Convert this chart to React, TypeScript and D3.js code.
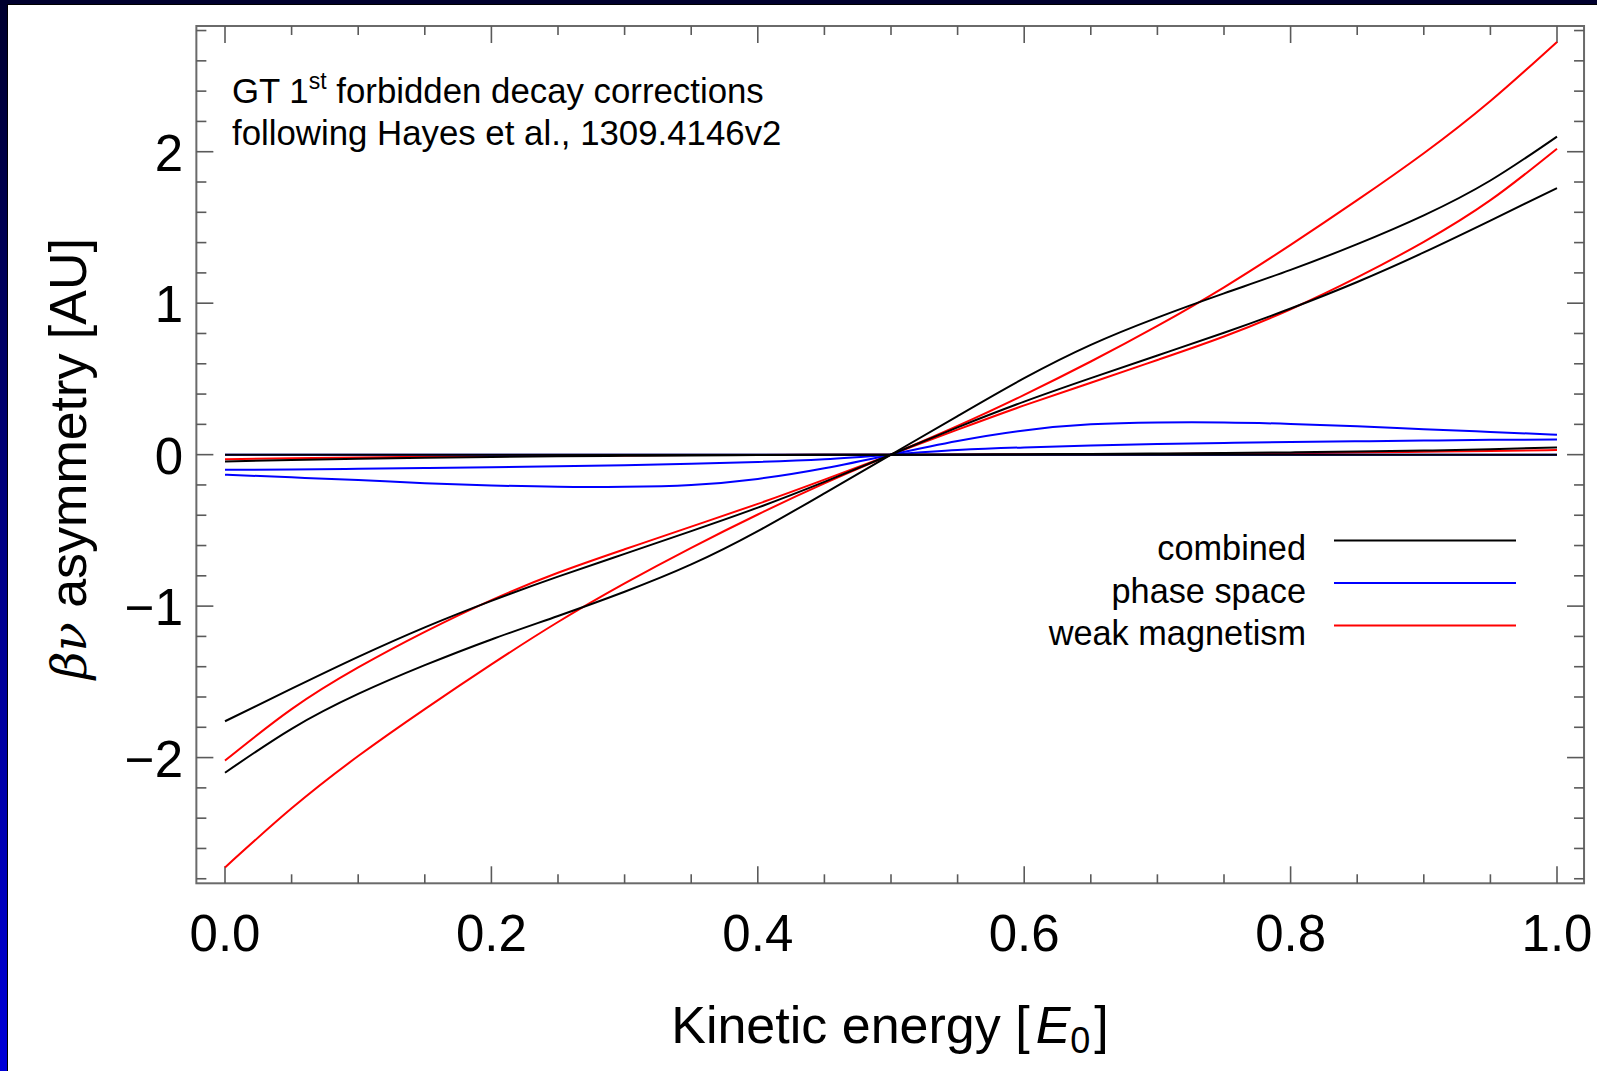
import React from "react";
import * as d3 from "d3";

// ---- data ----
const energy = [0, 0.05, 0.1, 0.15, 0.2, 0.25, 0.3, 0.35, 0.4, 0.45, 0.5, 0.55, 0.6, 0.65, 0.7, 0.75, 0.8, 0.85, 0.9, 0.95, 1];

// weak magnetism (red)
const weakA = [-2.725, -2.335, -1.99, -1.68, -1.385, -1.105, -0.85, -0.615, -0.395, -0.19, 0, 0.19, 0.395, 0.615, 0.85, 1.105, 1.385, 1.68, 1.99, 2.335, 2.725];
const weakB = [-2.02, -1.68, -1.405, -1.17, -0.96, -0.78, -0.625, -0.475, -0.325, -0.165, 0, 0.165, 0.325, 0.475, 0.625, 0.78, 0.96, 1.17, 1.405, 1.68, 2.02];
const weakC = [-0.03, -0.024, -0.019, -0.014, -0.01, -0.007, -0.005, -0.003, -0.002, -0.001, 0, 0.001, 0.002, 0.003, 0.005, 0.007, 0.01, 0.014, 0.019, 0.024, 0.03];

// phase space (blue)
const phaseA = [-0.132, -0.15, -0.168, -0.188, -0.203, -0.212, -0.212, -0.2, -0.16, -0.09, 0, 0.09, 0.16, 0.2, 0.212, 0.212, 0.203, 0.188, 0.168, 0.15, 0.132];
const phaseB = [-0.1, -0.098, -0.093, -0.088, -0.083, -0.077, -0.07, -0.06, -0.048, -0.03, 0, 0.03, 0.048, 0.06, 0.07, 0.077, 0.083, 0.088, 0.093, 0.098, 0.1];
const phaseC = [0, 0, 0, 0, 0, 0, 0, 0, 0, 0, 0, 0, 0, 0, 0, 0, 0, 0, 0, 0, 0];

// combined (black)
const combinedA = [-2.1, -1.81, -1.58, -1.39, -1.22, -1.065, -0.905, -0.725, -0.505, -0.255, 0, 0.255, 0.505, 0.725, 0.905, 1.065, 1.22, 1.39, 1.58, 1.81, 2.1];
const combinedB = [-1.76, -1.545, -1.335, -1.14, -0.965, -0.805, -0.655, -0.505, -0.35, -0.18, 0, 0.18, 0.35, 0.505, 0.655, 0.805, 0.965, 1.14, 1.335, 1.545, 1.76];
const combinedC = [-0.045, -0.035, -0.027, -0.02, -0.015, -0.011, -0.008, -0.005, -0.003, -0.001, 0, 0.001, 0.003, 0.005, 0.008, 0.011, 0.015, 0.02, 0.027, 0.035, 0.048];
const combinedD = [0, 0, 0, 0, 0, 0, 0, 0, 0, 0, 0, 0, 0, 0, 0, 0, 0, 0, 0, 0, 0];

const xTickValues = [0, 0.2, 0.4, 0.6, 0.8, 1.0];
const xTickLabels = ["0.0", "0.2", "0.4", "0.6", "0.8", "1.0"];
const yTickValues = [-2, -1, 0, 1, 2];
const yTickLabels = ["\u22122", "\u22121", "0", "1", "2"];

const legendLabels = ["combined", "phase space", "weak magnetism"];
const legendColors = ["#000000", "#0000ff", "#ff0000"];

const W = 1597;
const H = 1071;
const FONT = "'Liberation Sans', Arial, Helvetica, sans-serif";

export default function App() {
  const x = d3.scaleLinear().domain([0, 1]).range([225, 1557]);
  const y = d3.scaleLinear().domain([-2.83, 2.83]).range([883.3, 26]);
  const fx0 = x(-0.0215);
  const fx1 = x(1.0203);
  const fy0 = y(2.83);
  const fy1 = y(-2.83);

  const line = d3
    .line<number>()
    .x((_, i) => x(energy[i]))
    .y((d) => y(d))
    .curve(d3.curveNatural);

  const series = [
    { v: weakA, c: "#ff0000" },
    { v: weakB, c: "#ff0000" },
    { v: weakC, c: "#ff0000" },
    { v: phaseA, c: "#0000ff" },
    { v: phaseB, c: "#0000ff" },
    { v: phaseC, c: "#0000ff" },
    { v: combinedA, c: "#000000" },
    { v: combinedB, c: "#000000" },
    { v: combinedC, c: "#000000" },
    { v: combinedD, c: "#000000" },
  ];

  const xMinor = d3.range(0, 1.0001, 0.05);
  const yMinor = d3.range(-2.8, 2.8001, 0.2);
  const isMajorX = (v: number) => xTickValues.some((m) => Math.abs(m - v) < 1e-6);
  const isMajorY = (v: number) => yTickValues.some((m) => Math.abs(m - v) < 1e-6);

  const tickColor = "#5a5a5a";

  return (
    <div style={{ position: "absolute", left: 0, top: 0, width: W, height: H }}>
      <svg width={W} height={H} style={{ display: "block" }}>
        <defs>
          <linearGradient id="leftBand" x1="0" y1="0" x2="0" y2="1">
            <stop offset="0" stopColor="#00002e" />
            <stop offset="1" stopColor="#0000d8" />
          </linearGradient>
        </defs>
        <rect x={0} y={0} width={W} height={H} fill="#ffffff" />
        <rect x={0} y={0} width={8} height={H} fill="url(#leftBand)" />
        <rect x={0} y={0} width={W} height={5} fill="#00002e" />
        <line x1={7.5} y1={4.5} x2={7.5} y2={H} stroke="#000" strokeWidth={1} />
        <line x1={7.5} y1={4.5} x2={W} y2={4.5} stroke="#000" strokeWidth={1} />

        {/* frame */}
        <rect x={fx0} y={fy0} width={fx1 - fx0} height={fy1 - fy0} fill="none" stroke="#6a6a6a" strokeWidth={2} />

        {/* x ticks */}
        {xMinor.map((v, i) => {
          const len = isMajorX(v) ? 17 : 9;
          return (
            <g key={"xt" + i} stroke={tickColor} strokeWidth={1.6}>
              <line x1={x(v)} x2={x(v)} y1={fy1} y2={fy1 - len} />
              <line x1={x(v)} x2={x(v)} y1={fy0} y2={fy0 + len} />
            </g>
          );
        })}
        {/* y ticks */}
        {yMinor.map((v, i) => {
          const len = isMajorY(v) ? 17 : 10;
          return (
            <g key={"yt" + i} stroke={tickColor} strokeWidth={1.6}>
              <line x1={fx0} x2={fx0 + len} y1={y(v)} y2={y(v)} />
              <line x1={fx1} x2={fx1 - len} y1={y(v)} y2={y(v)} />
            </g>
          );
        })}

        {/* series */}
        {series.map((s, i) => (
          <path key={"s" + i} d={line(s.v) || ""} fill="none" stroke={s.c} strokeWidth={2} />
        ))}

        {/* tick labels */}
        {xTickValues.map((v, i) => (
          <text key={"xl" + i} x={x(v)} y={951} textAnchor="middle" fontFamily={FONT} fontSize={51} fill="#000">
            {xTickLabels[i]}
          </text>
        ))}
        {yTickValues.map((v, i) => (
          <text key={"yl" + i} x={183} y={y(v) + 19} textAnchor="end" fontFamily={FONT} fontSize={51} fill="#000">
            {yTickLabels[i]}
          </text>
        ))}

        {/* annotation */}
        <text x={232} y={103} fontFamily={FONT} fontSize={34.8} fill="#000">
          GT 1<tspan fontSize={23} dy={-14}>st</tspan>
          <tspan dy={14}> forbidden decay corrections</tspan>
        </text>
        <text x={232} y={145} fontFamily={FONT} fontSize={34.8} fill="#000">
          following Hayes et al., 1309.4146v2
        </text>

        {/* legend */}
        {legendLabels.map((l, i) => (
          <g key={"lg" + i}>
            <text x={1306} y={560 + i * 42.5} textAnchor="end" fontFamily={FONT} fontSize={34.3} fill="#000">
              {l}
            </text>
            <line x1={1334} x2={1516} y1={540.5 + i * 42.5} y2={540.5 + i * 42.5} stroke={legendColors[i]} strokeWidth={2} />
          </g>
        ))}

        {/* axis labels */}
        <text x={890} y={1043} textAnchor="middle" fontFamily={FONT} fontSize={52} fill="#000">
          Kinetic energy <tspan>[</tspan>
          <tspan fontStyle="italic" dx={6}>E</tspan>
          <tspan fontSize={36} dy={10}>0</tspan>
          <tspan dy={-10} dx={4}>]</tspan>
        </text>
        <text
          transform={`translate(86, ${(fy0 + fy1) / 2 + 4}) rotate(-90)`}
          textAnchor="middle"
          fontFamily={FONT}
          fontSize={52}
          fill="#000"
        >
          <tspan fontFamily="'DejaVu Serif', 'Liberation Serif', serif" fontStyle="italic" fontSize={48}>βν</tspan>
          <tspan> asymmetry [AU]</tspan>
        </text>
      </svg>
    </div>
  );
}
